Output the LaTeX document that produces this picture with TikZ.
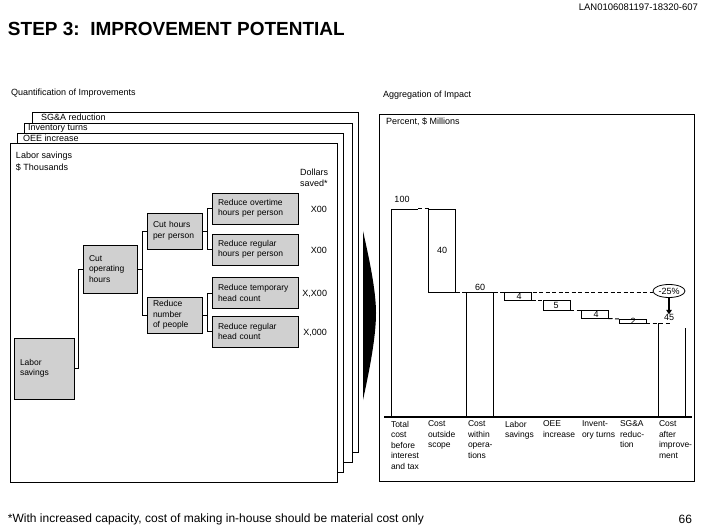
\documentclass[tikz,border=0pt]{standalone}
\usepackage{fontspec}
\setmainfont{Liberation Sans}
\usetikzlibrary{shapes.geometric,arrows.meta}
\definecolor{boxgray}{RGB}{208,208,208}

\begin{document}
\begin{tikzpicture}[x=1pt,y=-1pt,line width=0.8pt,
  every node/.style={inner sep=0pt,outer sep=0pt,font=\fontsize{9}{10.5}\selectfont},
  txt/.style={anchor=west},
  panel/.style={draw,fill=white},
  box/.style={draw,fill=boxgray,align=left,inner xsep=6pt,inner ysep=2pt,font=\fontsize{8.5}{10.5}\selectfont},
  leaf/.style={box,minimum width=86pt,minimum height=31pt,text width=74pt},
  mid/.style={box,minimum width=55pt,minimum height=36pt,text width=43pt},
  wbar/.style={minimum width=27pt},
  gap/.style={dash pattern=on 4pt off 2.5pt,line width=1pt},
  col/.style={anchor=north west,align=left,font=\fontsize{8.5}{10.5}\selectfont}]
\useasboundingbox (0,0) rectangle (706,529);

% heading
\node[anchor=east,font=\fontsize{9.5}{10}\selectfont] (code) at (698,7) {LAN0106081197-18320-607};
\node[anchor=west,font=\fontsize{19}{22}\bfseries] (title) at (8,29) {STEP 3:\ \ IMPROVEMENT POTENTIAL};
\node[txt] (quant) at (11,93) {Quantification of Improvements};
\node[txt] (aggr) at (383,95) {Aggregation of Impact};

% stacked panels
\draw[panel] (32,112) rectangle (358,452);
\node[txt] (psga) at (41,117.5) {SG\&A reduction};
\draw[panel] (24,123) rectangle (352,462);
\node[txt] (pinv) at (28,128) {Inventory turns};
\draw[panel] (17,133) rectangle (343,472);
\node[txt] (poee) at (23,138) {OEE increase};
\draw[panel] (10,143) rectangle (337,482);
\node[txt] (plab) at (16,156) {Labor savings};
\node[txt] (unit) at (16,167) {\$ Thousands};
\node[anchor=north west,align=left] (dollars) at (300,169) {Dollars\\saved*};

% tree
\node[box,minimum width=60pt,minimum height=61pt,text width=48pt] (labor) at (44,368.5) {Labor\\savings};
\node[box,minimum width=54pt,minimum height=48pt,text width=42pt] (cutop) at (110,269) {Cut\\operating\\hours};
\node[mid] (cuthrs) at (174.5,231) {Cut hours\\per person};
\node[mid] (redno) at (174.5,315) {Reduce\\number\\of people};
\node[leaf] (overtime) at (255,208.5) {Reduce overtime\\hours per person};
\node[leaf] (reghrs) at (255,249.5) {Reduce regular\\hours per person};
\node[leaf] (temp) at (255,293) {Reduce temporary\\head count};
\node[leaf] (reghc) at (255,331.5) {Reduce regular\\head count};

\draw (labor.east) -- ++(4.5,0) |- (cutop.west);
\draw (cutop.east) -- ++(5,0) |- (cuthrs.west);
\draw (cutop.east) -- ++(5,0) |- (redno.west);
\draw (cuthrs.east) -- ++(5,0) |- (overtime.west);
\draw (cuthrs.east) -- ++(5,0) |- (reghrs.west);
\draw (redno.east) -- ++(5,0) |- (temp.west);
\draw (redno.east) -- ++(5,0) |- (reghc.west);

\node[anchor=east] (v1) at (327,209) {X00};
\node[anchor=east] (v2) at (327,250) {X00};
\node[anchor=east] (v3) at (327,294) {X,X00};
\node[anchor=east] (v4) at (327,333) {X,000};

% big arrow
\fill (363,231) .. controls (369,258) and (376,290) .. (376,313)
  .. controls (376,338) and (369,372) .. (363,400) -- cycle;

% waterfall panel
\draw (379,114) rectangle (694,481);
\node[txt] (pct) at (386,122) {Percent, \$ Millions};

\node[wbar,minimum height=208pt] (total) at (404.5,313) {};
\node[wbar,draw,minimum height=83pt] (outside) at (442,250.5) {};
\node[wbar,minimum height=125pt] (within) at (480,354.5) {};
\node[wbar,draw,minimum height=8pt] (labbar) at (518,296) {};
\node[wbar,draw,minimum height=10.5pt] (oeebar) at (556.5,305.25) {};
\node[wbar,draw,minimum height=8pt] (invbar) at (595,314.5) {};
\node[wbar,draw,minimum height=4pt] (sgabar) at (632.5,321) {};
\node[wbar,minimum height=94pt] (after) at (671.5,370) {};

\draw (total.south west) -- (total.north west) -- (total.north east);
\draw (within.south west) -- (within.north west) -- (within.north east) -- (within.south east);
\draw (after.south west) -- (after.north west);
\draw (after.south east) -- ([yshift=-5pt]after.north east);

\node[ellipse,draw,minimum width=32pt,minimum height=13pt] (ratio) at (669,291) {-25\%};

\draw[gap] (total.north east) -- (outside.north west);
\draw[gap] (outside.south east) -- (within.north west);
\draw[gap] (within.north east) -- (within.north east -| ratio.west);
\draw[gap] (labbar.south east) -- (oeebar.north west);
\draw[gap] (oeebar.south east) -- (invbar.north west);
\draw[gap] (invbar.south east) -- (sgabar.north west);
\draw[gap] (sgabar.south east) -- (after.north);

\node (n100) at (402,199) {100};
\node (n40) at (442,250) {40};
\node (n60) at (480,287) {60};
\node (n4a) at (519,296) {4};
\node (n5) at (556,305) {5};
\node (n4b) at (596,314.5) {4};
\node (n2) at (633,321) {2};
\node (n45) at (669,317.5) {45};
\draw[line width=1.2pt,-{Triangle[length=4.5pt,width=5.5pt]}] (ratio.south) -- (n45.north);

\draw[line width=2pt] (384,417) -- (692,417);
\node[col] (c1) at (391,421) {Total\\cost\\before\\interest\\and tax};
\node[col] (c2) at (428,421) {Cost\\outside\\scope};
\node[col] (c3) at (468,421) {Cost\\within\\opera-\\tions};
\node[col] (c4) at (505,421) {Labor\\savings};
\node[col] (c5) at (543,421) {OEE\\increase};
\node[col] (c6) at (582,421) {Invent-\\ory turns};
\node[col] (c7) at (620,421) {SG\&A\\reduc-\\tion};
\node[col] (c8) at (659,421) {Cost\\after\\improve-\\ment};

% footer
\node[anchor=west,font=\fontsize{12}{14}\selectfont] (note) at (8,519) {*With increased capacity, cost of making in-house should be material cost only};
\node[anchor=east,font=\fontsize{12}{14}\selectfont] (page) at (692,519) {66};
\end{tikzpicture}
\end{document}
